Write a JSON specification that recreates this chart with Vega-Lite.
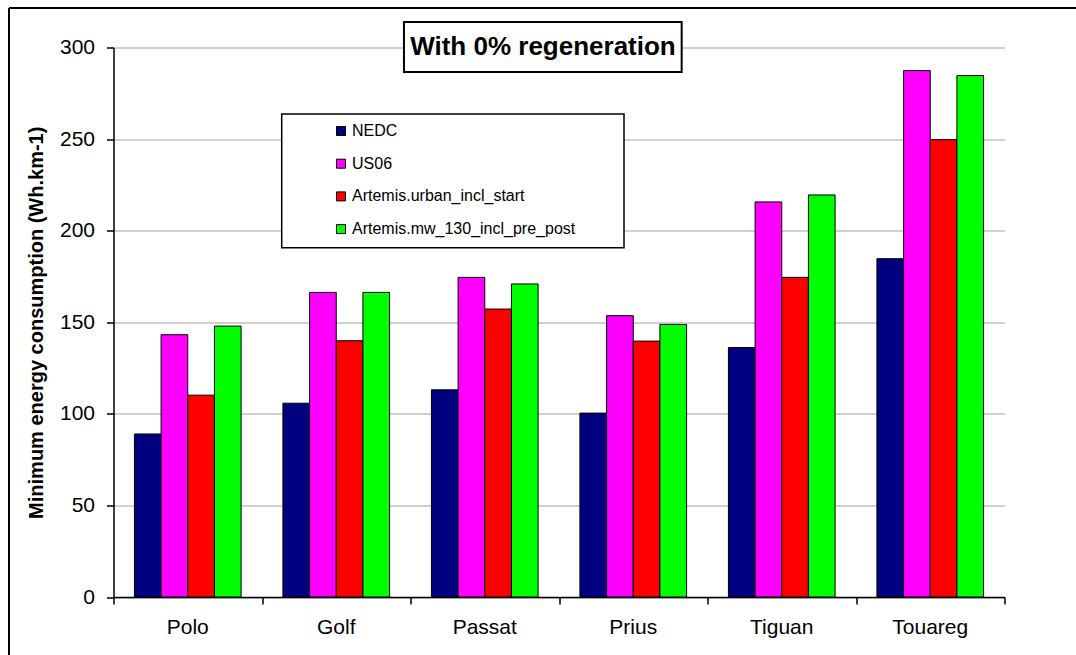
{
  "$schema": "https://vega.github.io/schema/vega-lite/v6.json",
  "width": 891,
  "height": 549.5,
  "autosize": "none",
  "padding": {"left": 113.5, "top": 47.5, "right": 71.5, "bottom": 58},
  "background": "white",
  "config": {"view": {"stroke": null}, "font": "Liberation Sans"},
  "datasets": {
    "energy": [
      {"car": "Polo", "cycle": "NEDC", "value": 89.0},
      {"car": "Polo", "cycle": "US06", "value": 143.2},
      {"car": "Polo", "cycle": "Artemis.urban_incl_start", "value": 110.2},
      {"car": "Polo", "cycle": "Artemis.mw_130_incl_pre_post", "value": 147.9},
      {"car": "Golf", "cycle": "NEDC", "value": 105.8},
      {"car": "Golf", "cycle": "US06", "value": 166.3},
      {"car": "Golf", "cycle": "Artemis.urban_incl_start", "value": 139.9},
      {"car": "Golf", "cycle": "Artemis.mw_130_incl_pre_post", "value": 166.3},
      {"car": "Passat", "cycle": "NEDC", "value": 113.1},
      {"car": "Passat", "cycle": "US06", "value": 174.5},
      {"car": "Passat", "cycle": "Artemis.urban_incl_start", "value": 157.2},
      {"car": "Passat", "cycle": "Artemis.mw_130_incl_pre_post", "value": 170.9},
      {"car": "Prius", "cycle": "NEDC", "value": 100.4},
      {"car": "Prius", "cycle": "US06", "value": 153.6},
      {"car": "Prius", "cycle": "Artemis.urban_incl_start", "value": 139.7},
      {"car": "Prius", "cycle": "Artemis.mw_130_incl_pre_post", "value": 148.8},
      {"car": "Tiguan", "cycle": "NEDC", "value": 136.2},
      {"car": "Tiguan", "cycle": "US06", "value": 215.7},
      {"car": "Tiguan", "cycle": "Artemis.urban_incl_start", "value": 174.5},
      {"car": "Tiguan", "cycle": "Artemis.mw_130_incl_pre_post", "value": 219.5},
      {"car": "Touareg", "cycle": "NEDC", "value": 184.7},
      {"car": "Touareg", "cycle": "US06", "value": 287.4},
      {"car": "Touareg", "cycle": "Artemis.urban_incl_start", "value": 249.7},
      {"car": "Touareg", "cycle": "Artemis.mw_130_incl_pre_post", "value": 284.7}
    ]
  },
  "layer": [
    {
      "data": {"name": "energy"},
      "mark": {"type": "bar", "stroke": "black", "strokeWidth": 1},
      "encoding": {
        "x": {
          "field": "car", "type": "nominal", "sort": null,
          "scale": {"paddingInner": 0, "paddingOuter": 0},
          "axis": {"title": null, "orient": "bottom", "ticks": false, "domain": false, "labelAngle": 0, "labelFontSize": 21, "labelColor": "black", "labelPadding": 19}
        },
        "xOffset": {
          "field": "cycle", "type": "nominal",
          "sort": ["NEDC", "US06", "Artemis.urban_incl_start", "Artemis.mw_130_incl_pre_post"],
          "scale": {"paddingInner": 0, "paddingOuter": 0.784}
        },
        "y": {
          "field": "value", "type": "quantitative",
          "scale": {"domain": [0, 300], "nice": false},
          "axis": {
            "title": "Minimum energy consumption (Wh.km-1)",
            "titleFontSize": 20, "titleFontWeight": "bold", "titleColor": "black", "titlePadding": 13,
            "values": [0, 50, 100, 150, 200, 250, 300],
            "grid": true, "gridColor": "#c0c0c0", "gridWidth": 1.5,
            "domainColor": "black", "domainWidth": 1.5, "tickColor": "black", "tickSize": 7, "tickWidth": 1.5,
            "labelFontSize": 21, "labelColor": "black", "labelPadding": 12
          }
        },
        "color": {
          "field": "cycle", "type": "nominal",
          "scale": {
            "domain": ["NEDC", "US06", "Artemis.urban_incl_start", "Artemis.mw_130_incl_pre_post"],
            "range": ["#000080", "#FF00FF", "#FF0000", "#00FF00"]
          },
          "legend": {
            "title": null, "orient": "none", "legendX": 219.5, "legendY": 75.5,
            "padding": 0, "rowPadding": 16.7, "symbolType": "square", "symbolSize": 81,
            "symbolStrokeColor": "black", "symbolStrokeWidth": 1, "symbolOpacity": 1,
            "labelFontSize": 16, "labelColor": "black", "labelOffset": 3, "labelLimit": 0, "zindex": 2
          }
        }
      }
    },
    {
      "data": {"values": [{}]},
      "layer": [
        {
          "mark": {"type": "rule", "color": "black", "strokeWidth": 2},
          "encoding": {
            "x": {"datum": -0.7037, "type": "quantitative", "scale": {"domain": [0, 6], "nice": false, "zero": false},
              "axis": {"title": null, "orient": "bottom", "values": [0, 1, 2, 3, 4, 5, 6], "labels": false, "grid": false, "tickSize": 7, "tickColor": "black", "tickWidth": 1.5, "domainColor": "black", "domainWidth": 1.5}},
            "x2": {"datum": 9},
            "y": {"datum": 321.6, "type": "quantitative", "scale": {"domain": [0, 300], "nice": false}}
          }
        },
        {
          "mark": {"type": "rule", "color": "black", "strokeWidth": 2},
          "encoding": {
            "x": {"datum": -0.7037, "type": "quantitative"},
            "y": {"datum": 321.6, "type": "quantitative"},
            "y2": {"datum": -80}
          }
        },
        {
          "mark": {"type": "rect", "fill": "white", "stroke": "black", "strokeWidth": 1.5},
          "encoding": {
            "x": {"datum": 1.1327, "type": "quantitative"},
            "x2": {"datum": 3.4377},
            "y": {"datum": 263.7, "type": "quantitative"},
            "y2": {"datum": 190.7}
          }
        },
        {
          "mark": {"type": "rect", "fill": "white", "stroke": "black", "strokeWidth": 2},
          "encoding": {
            "x": {"datum": 1.956, "type": "quantitative"},
            "x2": {"datum": 3.826},
            "y": {"datum": 313.9, "type": "quantitative"},
            "y2": {"datum": 286.6}
          }
        },
        {
          "mark": {"type": "text", "text": "With 0% regeneration", "fontSize": 26, "fontWeight": "bold", "color": "black", "align": "center", "baseline": "middle"},
          "encoding": {
            "x": {"datum": 2.892, "type": "quantitative"},
            "y": {"datum": 300.3, "type": "quantitative"}
          }
        }
      ]
    }
  ],
  "resolve": {"scale": {"x": "independent"}, "axis": {"x": "independent"}}
}
